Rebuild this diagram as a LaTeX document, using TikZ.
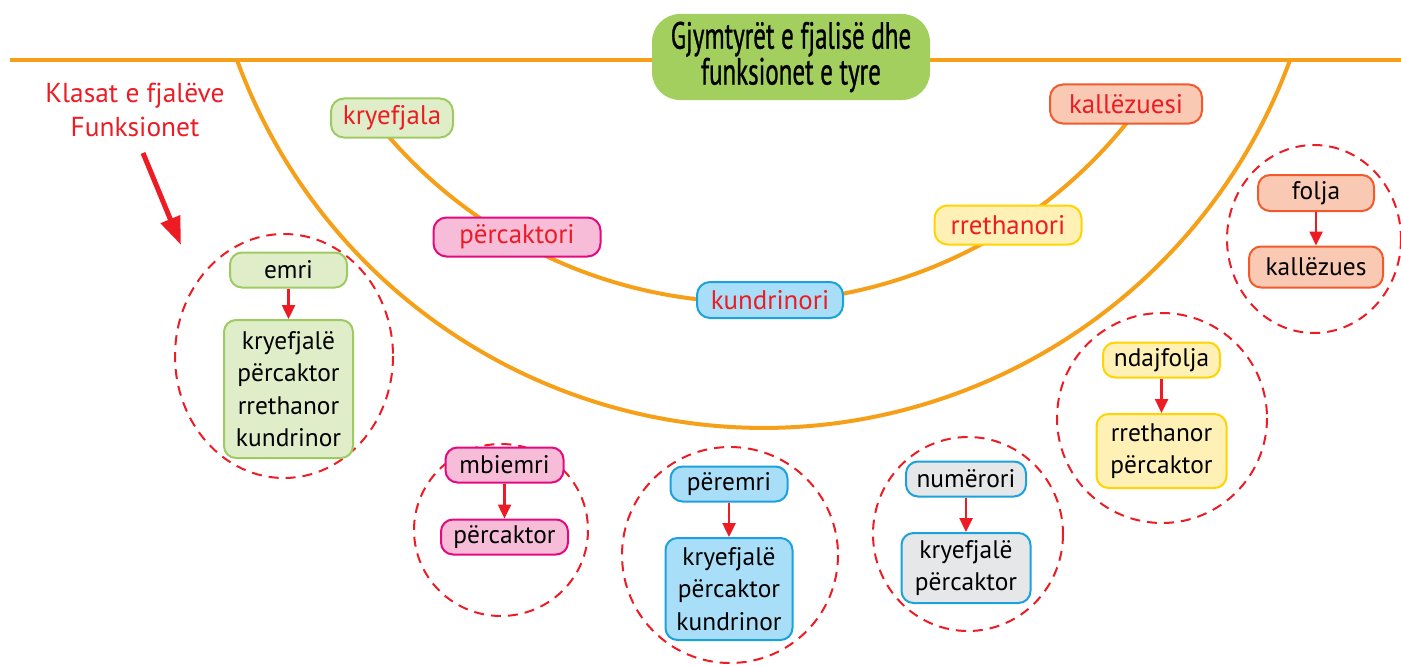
\documentclass[tikz,border=0pt]{standalone}
\usepackage{fontspec}
\setmainfont{PT Sans}
\newfontfamily\titlefont[FakeStretch=0.66,FakeBold=0.8]{PT Sans}
\usetikzlibrary{arrows.meta}
\definecolor{arcorange}{HTML}{F6A01A}
\definecolor{fjred}{HTML}{ED1C24}
\definecolor{titlegreen}{HTML}{A3CF5F}
\definecolor{emfill}{HTML}{E0EDC9}
\definecolor{emline}{HTML}{9DCB62}
\definecolor{mbfill}{HTML}{F7BCD8}
\definecolor{mbline}{HTML}{E5097F}
\definecolor{prfill}{HTML}{A9DEF8}
\definecolor{prline}{HTML}{1BA1DB}
\definecolor{nufill}{HTML}{E6E7E8}
\definecolor{ndfill}{HTML}{FFF0B5}
\definecolor{ndline}{HTML}{FFD400}
\definecolor{fofill}{HTML}{F9C9B3}
\definecolor{foline}{HTML}{F15A2B}

\begin{document}
\begin{tikzpicture}[yscale=-1,x=1bp,y=1bp,
  arcline/.style={draw=arcorange,line width=4bp},
  titlebox/.style={fill=titlegreen,rounded corners=28bp,minimum width=278bp,minimum height=86bp,
    align=center,font=\titlefont\fontsize{38}{34}\selectfont},
  fnbox/.style={draw,line width=2bp,rounded corners=13bp,text=fjred,
    font=\fontsize{27}{30}\selectfont,inner xsep=8bp,minimum height=39bp},
  wordbox/.style={draw,line width=2bp,rounded corners=12bp,text=black,align=center,
    font=\fontsize{25.5}{32.5}\selectfont,inner sep=5bp,minimum height=35bp},
  ring/.style={draw=fjred,line width=2bp,dash pattern=on 10bp off 7bp},
  toarrow/.style={draw=fjred,line width=2.5bp,-{Triangle[length=14bp,width=13bp]}}]

  \useasboundingbox (0,0) rectangle (1401,666);

  % --- Grundlinie und die beiden Boegen ---
  \draw[arcline] (10,60) -- (1401,60);
  \draw[arcline] (763.5,-133) ++(159.87:560.8) arc (159.87:20.13:560.8);
  \draw[arcline] (752,-178.6) ++(139.5:481) arc (139.5:38.5:481);

  % --- Titel ---
  \node[titlebox] (titel) at (791,57) {Gjymtyrët e fjalisë dhe\\funksionet e tyre};

  % --- Funksionet auf dem inneren Bogen ---
  \node[fnbox,fill=emfill,draw=emline,minimum width=122bp] (kryefjala) at (392,118) {kryefjala};
  \node[fnbox,fill=mbfill,draw=mbline,minimum width=167bp] (percaktori) at (517,237) {përcaktori};
  \node[fnbox,fill=prfill,draw=prline,minimum width=146bp,minimum height=36bp] (kundrinori) at (770,300) {kundrinori};
  \node[fnbox,fill=ndfill,draw=ndline,minimum width=147bp] (rrethanori) at (1008,225) {rrethanori};
  \node[fnbox,fill=fofill,draw=foline,minimum width=152bp] (kallezuesi) at (1126,104) {kallëzuesi};

  % --- Legende links mit Zeiger ---
  \node[text=fjred,align=center,font=\fontsize{27.5}{35}\selectfont] (klasat) at (135,110) {Klasat e fjalëve\\Funksionet};
  \coordinate (pointtail) at (143,153);
  \coordinate (pointtip) at (181,245);
  \draw[draw=fjred,line width=5bp,-{Triangle[length=28bp,width=20bp]}] (pointtail) -- (pointtip);

  % ======================================================================
  % Klasat e fjaleve: je ein gestrichelter Kreis mit Wortart -> Funktionen
  % ======================================================================
  \draw[ring] (284,356) ellipse [x radius=109,y radius=122];
  \node[wordbox,fill=emfill,draw=emline,minimum width=117bp] (emri) at (288.5,270) {emri};
  \node[wordbox,fill=emfill,draw=emline,minimum width=129bp,minimum height=138bp] (emrifunk) at (288.5,389)
    {kryefjalë\\përcaktor\\rrethanor\\kundrinor};
  \draw[toarrow] (emri) -- (emrifunk);

  \draw[ring] (501,530) ellipse [x radius=87,y radius=86];
  \node[wordbox,fill=mbfill,draw=mbline,minimum width=118bp] (mbiemri) at (504.5,465) {mbiemri};
  \node[wordbox,fill=mbfill,draw=mbline,minimum width=127bp] (mbiemrifunk) at (504.5,537) {përcaktor};
  \draw[toarrow] (mbiemri) -- (mbiemrifunk);

  \draw[ring] (730,555) circle (108);
  \node[wordbox,fill=prfill,draw=prline,minimum width=117bp] (peremri) at (729,484) {përemri};
  \node[wordbox,fill=prfill,draw=prline,minimum width=127bp,minimum height=102bp] (peremrifunk) at (729,589)
    {kryefjalë\\përcaktor\\kundrinor};
  \draw[toarrow] (peremri) -- (peremrifunk);

  \draw[ring] (968,534) ellipse [x radius=95,y radius=97];
  \node[wordbox,fill=nufill,draw=prline,minimum width=120bp] (numerori) at (966,479) {numërori};
  \node[wordbox,fill=nufill,draw=prline,minimum width=129bp,minimum height=70bp] (numerorifunk) at (966,568)
    {kryefjalë\\përcaktor};
  \draw[toarrow] (numerori) -- (numerorifunk);

  \draw[ring] (1162,418) circle (105);
  \node[wordbox,fill=ndfill,draw=ndline,minimum width=117bp] (ndajfolja) at (1161.5,360) {ndajfolja};
  \node[wordbox,fill=ndfill,draw=ndline,minimum width=130bp,minimum height=74bp] (ndajfoljafunk) at (1161.5,451)
    {rrethanor\\përcaktor};
  \draw[toarrow] (ndajfolja) -- (ndajfoljafunk);

  \draw[ring] (1314,239) ellipse [x radius=87,y radius=94];
  \node[wordbox,fill=fofill,draw=foline,minimum width=116bp,minimum height=36bp] (folja) at (1316,193) {folja};
  \node[wordbox,fill=fofill,draw=foline,minimum width=134bp,minimum height=41bp] (foljafunk) at (1316,267) {kallëzues};
  \draw[toarrow] (folja) -- (foljafunk);

\end{tikzpicture}
\end{document}
